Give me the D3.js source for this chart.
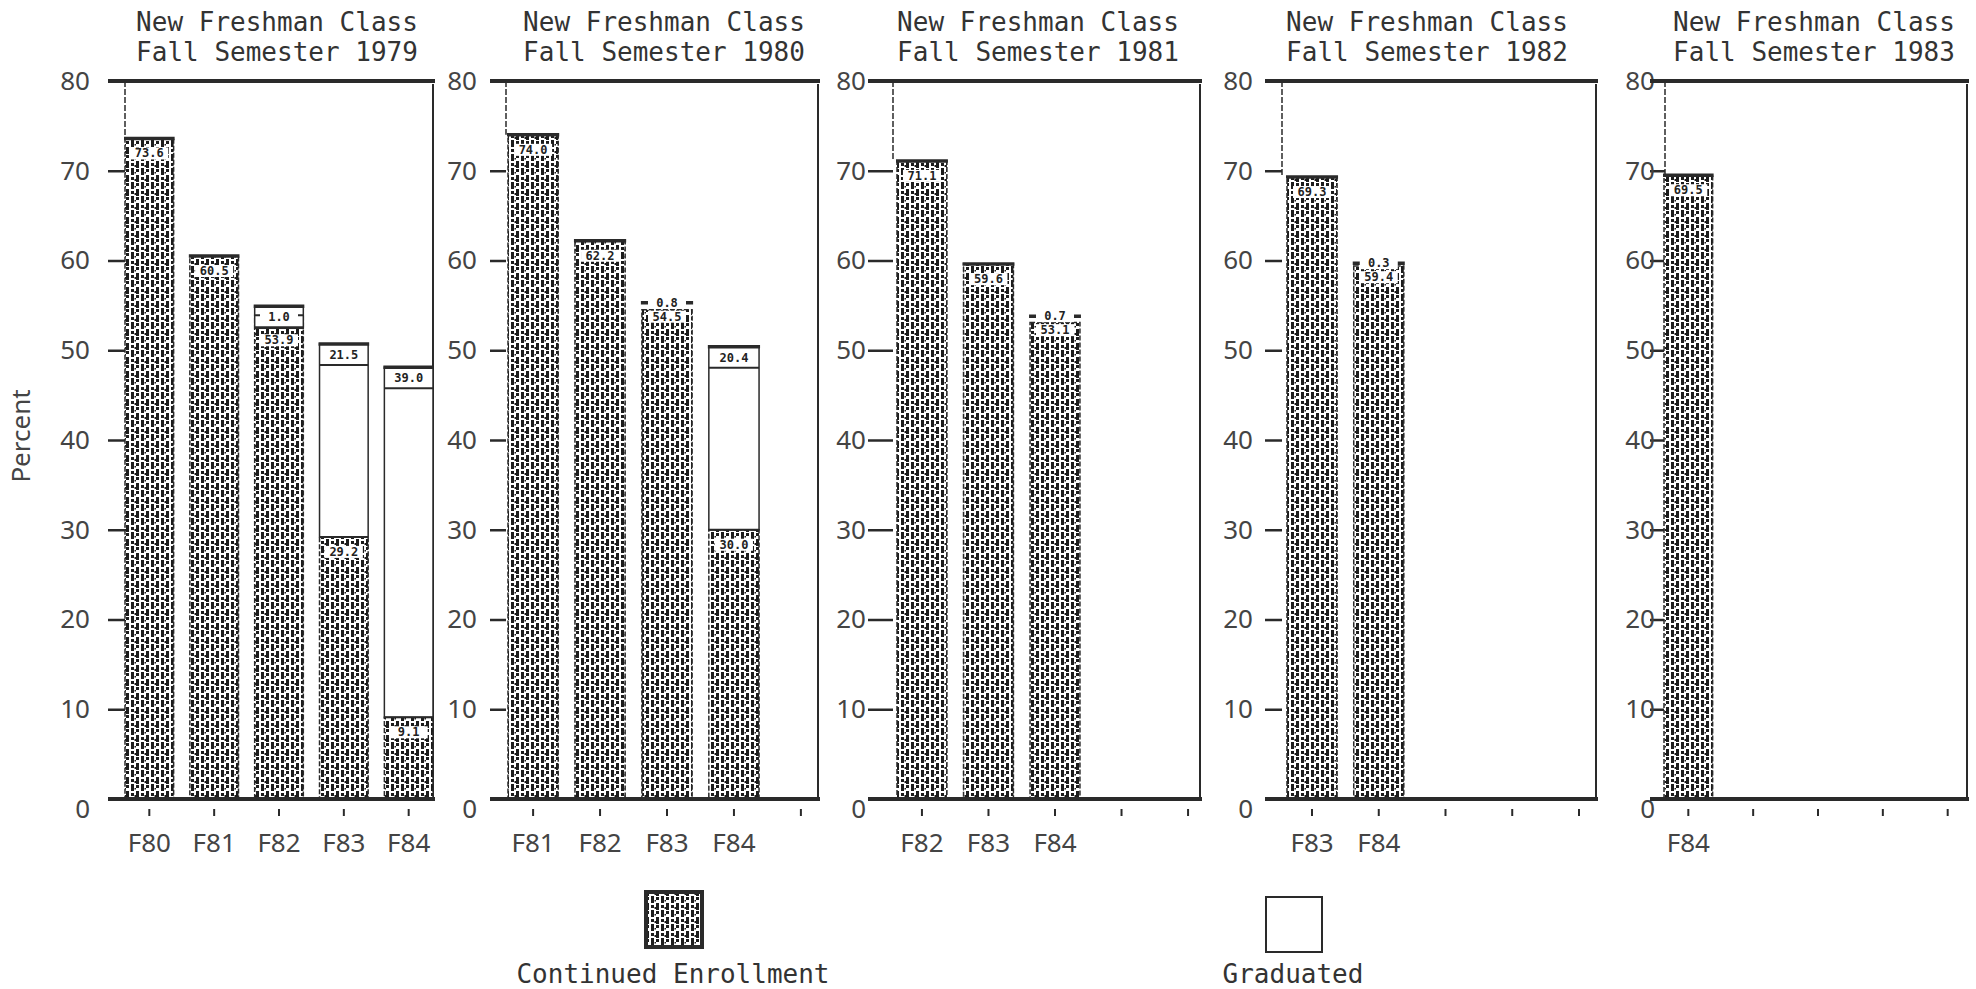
<!DOCTYPE html>
<html>
<head>
<meta charset="utf-8">
<script src="https://cdn.jsdelivr.net/npm/d3@7"></script>
<style>
    body { margin: 0; background: #fff; }
    .title { font-family: "DejaVu Sans Mono", monospace; font-size: 26px; fill: #333; }
    .tick text { font-family: "Noto Sans", sans-serif; font-size: 26px; fill: #444; }
    .seg-label { font-family: "DejaVu Sans Mono", monospace; font-size: 12px; font-weight: bold; fill: #222; }
    .legend-label { font-family: "DejaVu Sans Mono", monospace; font-size: 26px; fill: #333; }
    .axis-title { font-family: "Noto Sans", sans-serif; font-size: 26px; fill: #444; }
</style>
</head>
<body>
<div id="chart"></div>
<script>
// data
var classYears = ["1979", "1980", "1981", "1982", "1983"];
var semesters = [
    ["F80", "F81", "F82", "F83", "F84"],
    ["F81", "F82", "F83", "F84"],
    ["F82", "F83", "F84"],
    ["F83", "F84"],
    ["F84"]
];
var continued = [
    [73.6, 60.5, 53.9, 29.2, 9.1],
    [74.0, 62.2, 54.5, 30.0],
    [71.1, 59.6, 53.1],
    [69.3, 59.4],
    [69.5]
];
var graduated = [
    [0, 0, 1.0, 21.5, 39.0],
    [0, 0, 0.8, 20.4],
    [0, 0, 0.7],
    [0, 0.3],
    [0]
];
var yTicks = [0, 10, 20, 30, 40, 50, 60, 70, 80];
var legendLabels = ["Continued Enrollment", "Graduated"];
var slots = 5;

// layout
var width = 1976, height = 989;
var panelLeft = [125, 506, 893, 1282, 1665];
var panelRight = [433, 818, 1200, 1596, 1967];
var tickStart = [108, 490, 868, 1265, 1650];
var labelRight = [90, 477, 866, 1253, 1655];
var bandStart = [125, 508, 897, 1287, 1664];
var bandEnd = [433, 826, 1213, 1604, 1972];
var titleX = [277, 664, 1038, 1427, 1814];
var legendBoxX = [646, 1266];
var legendBoxY = [892, 897];
var yTop = 81, yBase = 799;
var ink = "#2a2a2a";

var svg = d3.select("#chart")
    .append("svg")
    .attr("width", width)
    .attr("height", height);

// typewriter-ish fill for continued enrollment
var pat = svg.append("defs").append("pattern")
    .attr("id", "enroll")
    .attr("width", 10)
    .attr("height", 14)
    .attr("patternUnits", "userSpaceOnUse");
pat.append("rect").attr("width", 10).attr("height", 14).attr("fill", "#fff");
[[1, 0, 3, 7], [1, 9, 3, 3], [6, 7, 3, 7], [6, 1, 3, 3], [4.5, 11, 1.5, 2], [4.5, 4, 1.5, 1.5]].forEach(function (r) {
    pat.append("rect").attr("x", r[0]).attr("y", r[1]).attr("width", r[2]).attr("height", r[3]).attr("fill", "#1c1c1c");
});

var y = d3.scaleLinear().domain([0, 80]).range([yBase, yTop]);

classYears.forEach(function (year, p) {
    var g = svg.append("g");

    var x = d3.scaleBand()
        .domain(d3.range(slots))
        .range([bandStart[p], bandEnd[p]])
        .paddingInner(0.25)
        .paddingOuter(0);
    var bw = x.bandwidth();

    var rows = continued[p].map(function (c, i) {
        return { i: i, cont: c, grad: graduated[p][i], total: c + graduated[p][i] };
    });

    g.append("text").attr("class", "title")
        .attr("x", titleX[p]).attr("y", 31)
        .attr("text-anchor", "middle")
        .text("New Freshman Class");
    g.append("text").attr("class", "title")
        .attr("x", titleX[p]).attr("y", 61)
        .attr("text-anchor", "middle")
        .text("Fall Semester " + year);

    // y axis
    var yAxis = d3.axisLeft(y)
        .tickValues(yTicks)
        .tickSize(panelLeft[p] - tickStart[p])
        .tickPadding(tickStart[p] - labelRight[p]);
    var ya = g.append("g")
        .attr("transform", "translate(" + panelLeft[p] + ",0)")
        .call(yAxis);
    ya.select(".domain").remove();
    ya.selectAll("line").attr("stroke", ink).attr("stroke-width", 2.5);
    ya.selectAll(".tick text").filter(function (d) { return d === 0; })
        .attr("transform", "translate(0,10)");

    // frame
    g.append("line")
        .attr("x1", panelLeft[p]).attr("x2", panelLeft[p])
        .attr("y1", yTop).attr("y2", y(rows[0].total))
        .attr("stroke", ink).attr("stroke-width", 1.5)
        .attr("stroke-dasharray", "6,2");
    g.append("line")
        .attr("x1", panelRight[p]).attr("x2", panelRight[p])
        .attr("y1", yTop + 3).attr("y2", yBase)
        .attr("stroke", ink).attr("stroke-width", 2);

    // bars: continued enrollment
    g.selectAll(".cont")
        .data(rows)
        .enter()
        .append("rect")
        .attr("class", "cont")
        .attr("x", function (d) { return x(d.i); })
        .attr("width", bw)
        .attr("y", function (d) { return y(d.cont); })
        .attr("height", function (d) { return y(0) - y(d.cont); })
        .attr("fill", "url(#enroll)")
        .attr("stroke", ink)
        .attr("stroke-width", 1.5)
        .attr("stroke-dasharray", "5,2");

    // graduated segments
    var big = rows.filter(function (d) { return d.grad >= 1; });
    g.selectAll(".grad")
        .data(big)
        .enter()
        .append("rect")
        .attr("class", "grad")
        .attr("x", function (d) { return x(d.i); })
        .attr("width", bw)
        .attr("y", function (d) { return y(d.total); })
        .attr("height", function (d) { return Math.max(y(d.cont) - y(d.total), 22); })
        .attr("fill", "#fff")
        .attr("stroke", ink)
        .attr("stroke-width", 1.5);
    g.selectAll(".grad-sep")
        .data(big)
        .enter()
        .append("line")
        .attr("x1", function (d) { return x(d.i); })
        .attr("x2", function (d) { return x(d.i) + bw; })
        .attr("y1", function (d) { return y(d.total) + 21; })
        .attr("y2", function (d) { return y(d.total) + 21; })
        .attr("stroke", ink)
        .attr("stroke-width", 2);
    g.selectAll(".cont-top")
        .data(big)
        .enter()
        .append("line")
        .attr("x1", function (d) { return x(d.i); })
        .attr("x2", function (d) { return x(d.i) + bw; })
        .attr("y1", function (d) { return y(d.cont); })
        .attr("y2", function (d) { return y(d.cont); })
        .attr("stroke", ink)
        .attr("stroke-width", 2);

    // cap on each stack
    g.selectAll(".cap")
        .data(rows)
        .enter()
        .append("line")
        .attr("x1", function (d) { return x(d.i) - 1; })
        .attr("x2", function (d) { return x(d.i) + bw + 1; })
        .attr("y1", function (d) { return y(d.total); })
        .attr("y2", function (d) { return y(d.total); })
        .attr("stroke", ink)
        .attr("stroke-width", 3.5);

    // value labels
    function contCenter(d) {
        if (d.grad >= 1) return Math.max(y(d.cont) + 15, y(d.total) + 34);
        if (d.grad > 0) return y(d.total) + 14;
        return y(d.cont) + 15;
    }
    function gradCenter(d) {
        return d.grad >= 1 ? y(d.total) + 11 : y(d.total);
    }

    var labels = [];
    rows.forEach(function (d) {
        labels.push({ cx: x(d.i) + bw / 2, cy: contCenter(d), text: d.cont.toFixed(1) });
        if (d.grad > 0) labels.push({ cx: x(d.i) + bw / 2, cy: gradCenter(d), text: d.grad.toFixed(1) });
    });
    g.selectAll(".lab-bg")
        .data(labels)
        .enter()
        .append("rect")
        .attr("x", function (d) { return d.cx - 19; })
        .attr("y", function (d) { return d.cy - 6; })
        .attr("width", 38)
        .attr("height", 12)
        .attr("fill", "#fff");
    g.selectAll(".seg-label")
        .data(labels)
        .enter()
        .append("text")
        .attr("class", "seg-label")
        .attr("x", function (d) { return d.cx; })
        .attr("y", function (d) { return d.cy + 4; })
        .attr("text-anchor", "middle")
        .text(function (d) { return d.text; });

    // thick top and bottom rules
    g.append("line")
        .attr("x1", tickStart[p]).attr("x2", panelRight[p] + 2)
        .attr("y1", yTop).attr("y2", yTop)
        .attr("stroke", ink).attr("stroke-width", 4);
    g.append("line")
        .attr("x1", tickStart[p]).attr("x2", panelRight[p] + 2)
        .attr("y1", yBase).attr("y2", yBase)
        .attr("stroke", ink).attr("stroke-width", 4);

    // x axis
    var xAxis = d3.axisBottom(x)
        .tickSize(7)
        .tickPadding(18)
        .tickFormat(function (i) { return semesters[p][i] || ""; });
    var xa = g.append("g")
        .attr("transform", "translate(0," + (yBase + 10) + ")")
        .call(xAxis);
    xa.select(".domain").remove();
    xa.selectAll("line").attr("stroke", ink).attr("stroke-width", 2);
});

svg.append("text")
    .attr("class", "axis-title")
    .attr("transform", "translate(23,436) rotate(-90)")
    .attr("text-anchor", "middle")
    .attr("dominant-baseline", "middle")
    .text("Percent");

// legend
legendLabels.forEach(function (label, k) {
    svg.append("rect")
        .attr("x", legendBoxX[k])
        .attr("y", legendBoxY[k])
        .attr("width", 56)
        .attr("height", 55)
        .attr("fill", k === 0 ? "url(#enroll)" : "#fff")
        .attr("stroke", ink)
        .attr("stroke-width", k === 0 ? 4 : 2);
    svg.append("text")
        .attr("class", "legend-label")
        .attr("x", legendBoxX[k] + 27)
        .attr("y", 983)
        .attr("text-anchor", "middle")
        .text(label);
});
</script>
</body>
</html>
